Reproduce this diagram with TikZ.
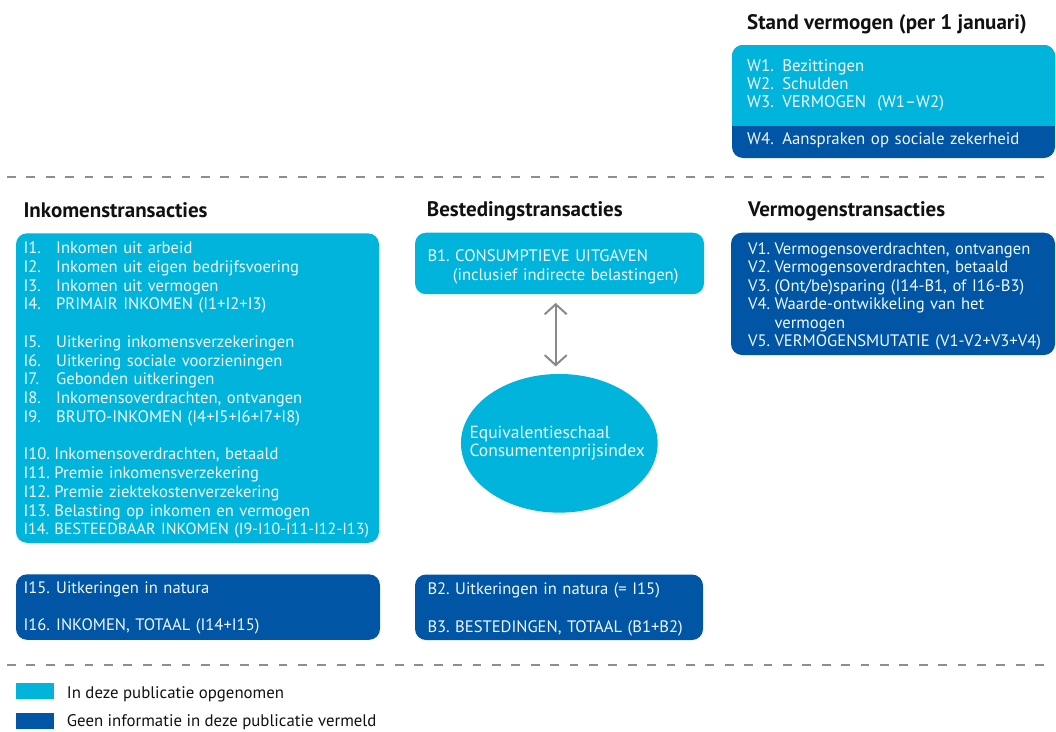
\documentclass[tikz,border=0pt]{standalone}
\usepackage{fontspec}
\setmainfont{PT Sans}
\usetikzlibrary{arrows.meta,shapes.geometric}
\definecolor{lblue}{HTML}{00B4DC}
\definecolor{dblue}{HTML}{0055A5}
\definecolor{dashgray}{HTML}{8E8E8E}
\definecolor{arrgray}{HTML}{8A8A8A}
\definecolor{boxtext}{HTML}{EEF8FC}
\definecolor{headtext}{HTML}{111111}
\newcommand\itemlab[2]{\makebox[#1][l]{#2}}
\begin{document}
\begin{tikzpicture}[x=1pt,y=-1pt,
  box/.style={rounded corners=11pt, inner sep=0pt, outer sep=0pt, anchor=north west, draw=none},
  lbox/.style={box, fill=lblue},
  dbox/.style={box, fill=dblue},
  txt/.style={text=boxtext, inner sep=0pt, anchor=base west, align=left, text width=#1,
    font=\fontsize{16.6}{18.75}\selectfont},
  head/.style={text=headtext, inner sep=0pt, anchor=base west, font=\fontsize{21}{24}\selectfont\bfseries},
  legtxt/.style={text=headtext, inner sep=0pt, anchor=base west, font=\fontsize{16.8}{18.75}\selectfont},
  dashline/.style={draw=dashgray, line width=1.6pt, dash pattern=on 8.7pt off 10.7pt},
  arr/.style={draw=arrgray, line width=2pt, {Straight Barb[length=10pt,width=22pt]}-{Straight Barb[length=10pt,width=22pt]}}
]
\useasboundingbox (0,0) rectangle (1056,731);

% ---- Stand vermogen
\node[head] (hstand) at (747,29) {Stand vermogen (per 1 januari)};
\node[dbox, minimum width=323pt, minimum height=113pt] (wbox) at (732,45) {};
\begin{scope}
  \clip (700,30) rectangle (1060,125);
  \node[lbox, minimum width=323pt, minimum height=113pt] (wtop) at (732,45) {};
\end{scope}
\node[txt=300pt, font=\fontsize{16.8}{18.3}\selectfont] (wtxt) at (747,71)
  {W1. Bezittingen\\W2. Schulden\\W3. VERMOGEN\ \ (W1–W2)};
\node[txt=300pt, font=\fontsize{16.8}{18.3}\selectfont] (w4txt) at (747,144) {W4. Aanspraken op sociale zekerheid};

% ---- dashed separators
\coordinate (d1a) at (7,177); \coordinate (d1b) at (1052,177);
\coordinate (d2a) at (7,665); \coordinate (d2b) at (1052,665);
\draw[dashline] (d1a) -- (d1b);
\draw[dashline] (d2a) -- (d2b);

% ---- headings
\node[head] (hink) at (23.3,217.3) {Inkomenstransacties};
\node[head] (hbes) at (426.7,216.7) {Bestedingstransacties};
\node[head] (hver) at (748,216.7) {Vermogenstransacties};

% ---- Inkomen box
\node[lbox, minimum width=363pt, minimum height=309.5pt] (ibox) at (16,233.3) {};
\node[txt=360pt] (itxt) at (23.3,253.5)
  {\itemlab{32.7pt}{I1.}Inkomen uit arbeid\\
   \itemlab{32.7pt}{I2.}Inkomen uit eigen bedrijfsvoering\\
   \itemlab{32.7pt}{I3.}Inkomen uit vermogen\\
   \itemlab{32.7pt}{I4.}PRIMAIR INKOMEN (I1+I2+I3)\\[18.75pt]
   \itemlab{32.7pt}{I5.}Uitkering inkomensverzekeringen\\
   \itemlab{32.7pt}{I6.}Uitkering sociale voorzieningen\\
   \itemlab{32.7pt}{I7.}Gebonden uitkeringen\\
   \itemlab{32.7pt}{I8.}Inkomensoverdrachten, ontvangen\\
   \itemlab{32.7pt}{I9.}BRUTO-INKOMEN (I4+I5+I6+I7+I8)\\[18.75pt]
   \itemlab{31pt}{I10.}Inkomensoverdrachten, betaald\\
   \itemlab{31pt}{I11.}Premie inkomensverzekering\\
   \itemlab{31pt}{I12.}Premie ziektekostenverzekering\\
   \itemlab{31pt}{I13.}Belasting op inkomen en vermogen\\
   {\fontsize{16.1}{18.75}\selectfont\itemlab{31pt}{I14.}BESTEEDBAAR INKOMEN (I9-I10-I11-I12-I13)}};

\node[dbox, minimum width=364pt, minimum height=65.5pt] (i15box) at (16,574.3) {};
\node[txt=360pt] (i15txt) at (23.3,593.3)
  {\itemlab{32.7pt}{I15.}Uitkeringen in natura\\[18.75pt]
   \itemlab{32.7pt}{I16.}INKOMEN, TOTAAL (I14+I15)};

% ---- Besteding
\node[lbox, minimum width=289pt, minimum height=61.5pt] (b1box) at (415,232.7) {};
\node[txt=280pt] (b1txt) at (427.3,261.7)
  {\itemlab{27.7pt}{B1.}CONSUMPTIEVE UITGAVEN\\
   \hspace*{25.4pt}(inclusief indirecte belastingen)};
\node[ellipse, fill=lblue, inner sep=0pt, minimum width=196.7pt, minimum height=138.7pt] (ell) at (559.3,443.3) {};
\node[txt=190pt, font=\fontsize{17.5}{17.7}\selectfont] (elltxt) at (469.3,438.3)
  {Equivalentieschaal\\Consumentenprijsindex};
\draw[arr, shorten <=8.7pt, shorten >=7.3pt] ([xshift=-3.8pt]b1box.south) -- ([xshift=-3.6pt]ell.north);

\node[dbox, minimum width=288pt, minimum height=65.5pt] (b2box) at (415,574.5) {};
\node[txt=280pt] (b2txt) at (427.3,594.3)
  {\itemlab{27.7pt}{B2.}Uitkeringen in natura (= I15)\\[19.25pt]
   \itemlab{27.7pt}{B3.}BESTEDINGEN, TOTAAL (B1+B2)};

% ---- Vermogenstransacties
\node[dbox, minimum width=324pt, minimum height=122.3pt] (vbox) at (731,232.7) {};
\node[txt=320pt, font=\fontsize{16.6}{18.5}\selectfont] (vtxt) at (748,254)
  {\itemlab{26.3pt}{V1.}Vermogensoverdrachten, ontvangen\\
   \itemlab{26.3pt}{V2.}Vermogensoverdrachten, betaald\\
   \itemlab{26.3pt}{V3.}(Ont/be)sparing (I14-B1, of I16-B3)\\
   \itemlab{26.3pt}{V4.}Waarde-ontwikkeling van het\\
   \itemlab{26.3pt}{}vermogen\\
   \itemlab{26.3pt}{V5.}VERMOGENSMUTATIE (V1-V2+V3+V4)};

% ---- legend
\node[lbox, rounded corners=0pt, minimum width=38pt, minimum height=16.3pt] (leg1) at (16,682.7) {};
\node[legtxt] (leg1txt) at (66.7,698.3) {In deze publicatie opgenomen};
\node[dbox, rounded corners=0pt, minimum width=38pt, minimum height=16.3pt] (leg2) at (16,712.7) {};
\node[legtxt] (leg2txt) at (66.7,726.5) {Geen informatie in deze publicatie vermeld};
\end{tikzpicture}
\end{document}
